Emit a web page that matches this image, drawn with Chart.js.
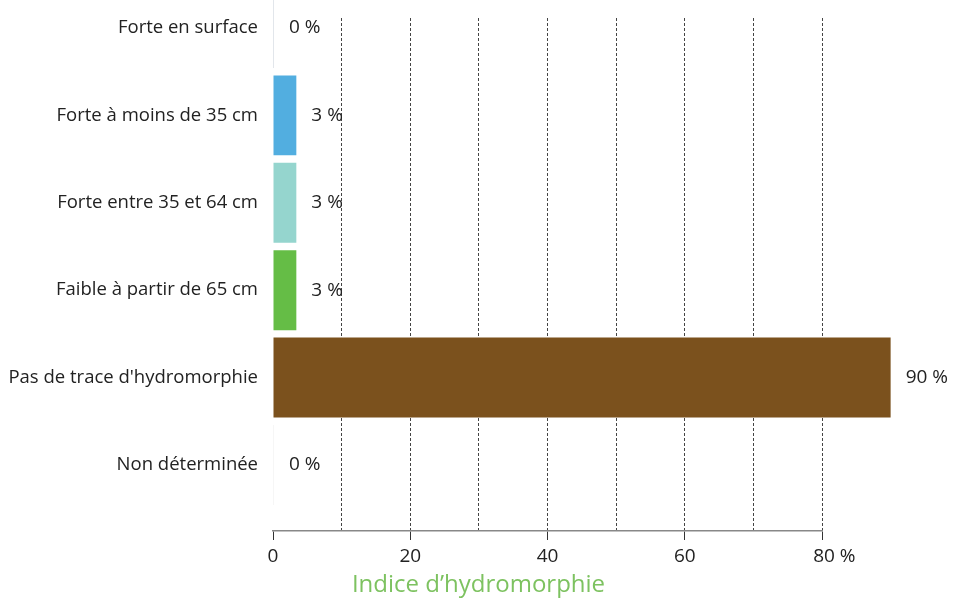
<!DOCTYPE html>
<html>
<head>
<meta charset="utf-8">
<script src="https://cdn.jsdelivr.net/npm/chart.js@4/dist/chart.umd.min.js"></script>
<style>
  html, body { margin: 0; padding: 0; background: #fff; }
  #wrap { width: 953px; height: 598px; position: relative; }
</style>
</head>
<body>
<div id="wrap"><canvas id="hydro"></canvas></div>
<script>
const categories = [
    'Forte en surface',
    'Forte à moins de 35 cm',
    'Forte entre 35 et 64 cm',
    'Faible à partir de 65 cm',
    "Pas de trace d'hydromorphie",
    'Non déterminée'
];
const values = [0, 3.4, 3.4, 3.4, 90, 0];
const barColors = ['#c5ced8', '#52aee0', '#95d5ce', '#65bd46', '#7b511d', '#eeeeee'];
const xTickValues = [0, 20, 40, 60, 80];
const xTickLabels = ['0', '20', '40', '60', '80 %'];
const axisTitle = 'Indice d\u2019hydromorphie';

const font = "'Open Sans', 'Noto Sans', sans-serif";

// value labels right of each bar
const valueLabels = {
    id: 'valueLabels',
    afterDatasetsDraw(chart) {
        const ctx = chart.ctx;
        const meta = chart.getDatasetMeta(0);
        ctx.save();
        ctx.font = '19px ' + font;
        ctx.fillStyle = '#222';
        ctx.textAlign = 'left';
        ctx.textBaseline = 'middle';
        meta.data.forEach((bar, i) => {
            ctx.fillText(Math.round(values[i]) + ' %', bar.x + 15, bar.y);
        });
        ctx.restore();
    }
};

const noPad = (s) => { s.paddingTop = 0; s.paddingBottom = 0; };

new Chart(document.getElementById('hydro'), {
    type: 'bar',
    data: {
        datasets: [{
            data: values.map((v, i) => ({ x: v, y: i })),
            backgroundColor: barColors,
            borderWidth: 0,
            minBarLength: 1,
            categoryPercentage: 1,
            barPercentage: 0.915,
            clip: false
        }]
    },
    options: {
        indexAxis: 'y',
        responsive: true,
        maintainAspectRatio: false,
        animation: false,
        layout: { padding: { top: 18, left: 4, right: 0, bottom: 0 } },
        plugins: {
            legend: { display: false },
            tooltip: { enabled: false },
            title: {
                display: true,
                position: 'bottom',
                text: axisTitle,
                color: '#7dc260',
                font: { family: font, size: 24, weight: 'normal', lineHeight: 1.05 },
                padding: { top: 0, bottom: 0 }
            }
        },
        scales: {
            x: {
                type: 'linear',
                min: 0,
                max: 80,
                ticks: {
                    stepSize: 10,
                    color: '#222',
                    font: { family: font, size: 19 },
                    padding: 5,
                    maxRotation: 0,
                    autoSkip: false,
                    callback: (v) => {
                        const k = xTickValues.indexOf(v);
                        if (k < 0) return '';
                        return k === xTickValues.length - 1 ? '     ' + xTickLabels[k] : xTickLabels[k];
                    }
                },
                grid: {
                    color: (c) => (c.tick && c.tick.value === 0) ? 'rgba(0,0,0,0)' : '#444',
                    tickColor: (c) => (c.tick && c.tick.value % 20 === 0) ? '#333' : 'rgba(0,0,0,0)',
                    tickLength: 9,
                    lineWidth: 1
                },
                border: { display: true, color: '#888', width: 1.5, dash: [3, 2] },
                afterFit: (s) => { s.height = 41.8; }
            },
            y: {
                type: 'linear',
                reverse: true,
                offset: false,
                min: -0.114,
                max: 5.755,
                afterBuildTicks: (s) => { s.ticks = categories.map((c, i) => ({ value: i })); },
                ticks: {
                    color: '#222',
                    font: { family: font, size: 18.5 },
                    padding: 15,
                    callback: (v) => categories[v] || ''
                },
                grid: { display: false, drawTicks: false },
                border: { display: false },
                afterFit: (s) => { s.width = 269; noPad(s); }
            },
            yRight: {
                type: 'linear',
                position: 'right',
                ticks: { display: false },
                grid: { display: false, drawTicks: false },
                border: { display: false },
                afterFit: (s) => { s.width = 131; noPad(s); }
            }
        }
    },
    plugins: [valueLabels]
});
</script>
</body>
</html>
